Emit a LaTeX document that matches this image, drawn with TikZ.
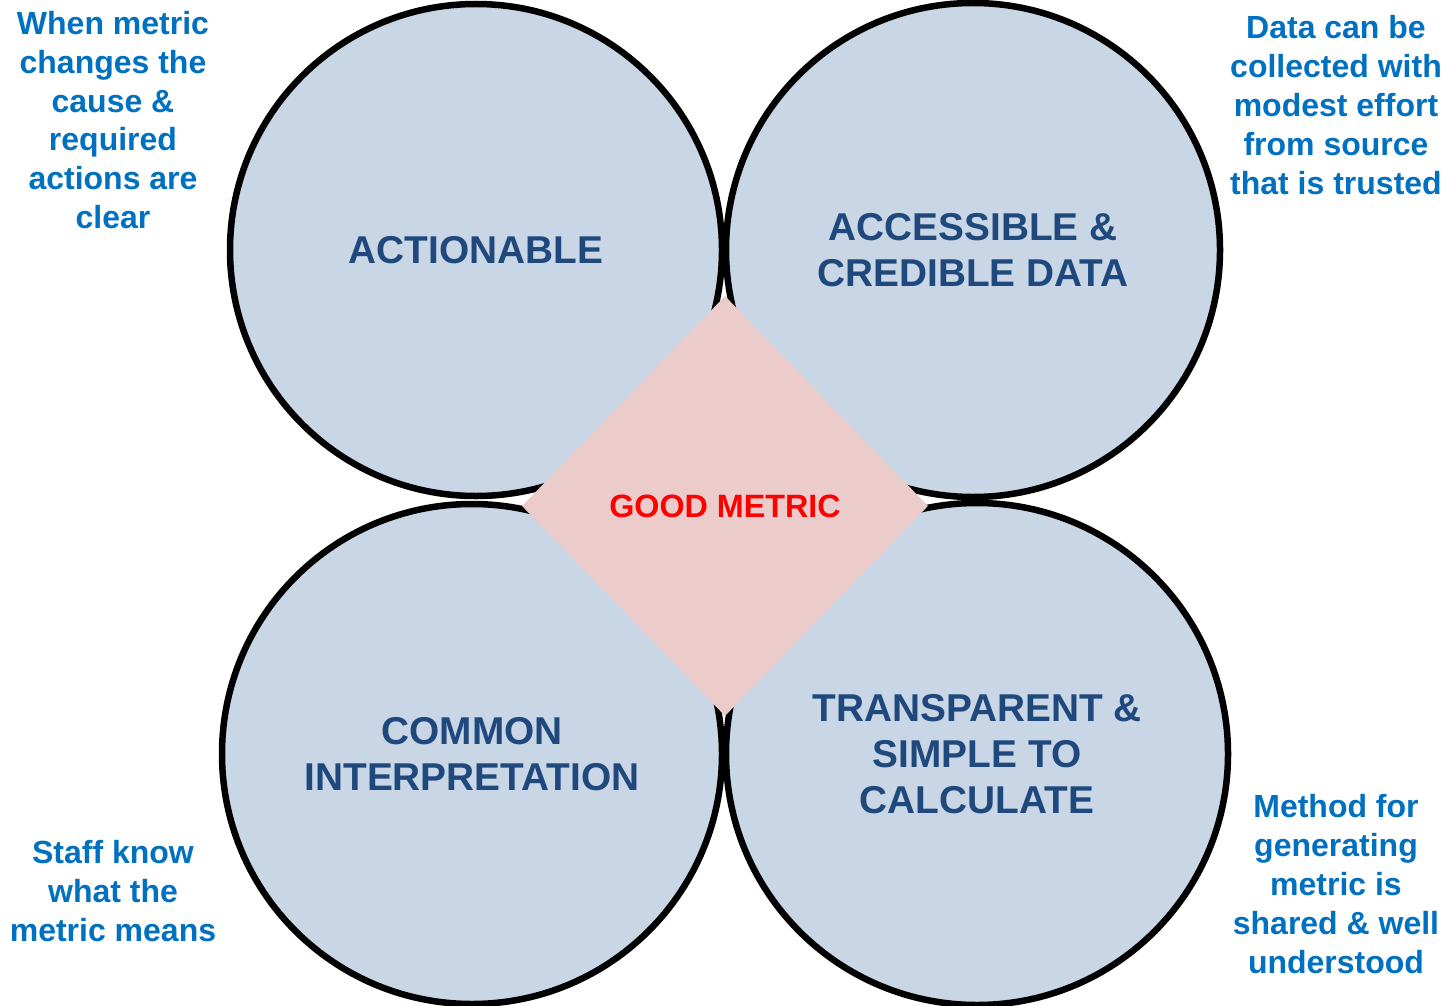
\documentclass[tikz,border=0pt]{standalone}
\usepackage{fontspec}
\setmainfont{Liberation Sans}
\usetikzlibrary{shapes.geometric}

\definecolor{circfill}{HTML}{C8D6E5}
\definecolor{circtext}{HTML}{1F497D}
\definecolor{notetext}{HTML}{0070C0}
\definecolor{diafill}{HTML}{EBCCCB}
\definecolor{hubtext}{HTML}{FF0000}

\tikzset{
  pillar/.style={circle, draw=black, line width=6.5pt, fill=circfill,
    inner sep=0pt, align=center, text=circtext,
    font=\bfseries\fontsize{38.8}{46}\selectfont},
  hub/.style={diamond, fill=diafill, inner sep=0pt,
    minimum width=406pt, minimum height=420pt,
    text=hubtext, font=\bfseries\fontsize{32.3}{38}\selectfont},
  note/.style={align=center, text=notetext, inner sep=0pt,
    font=\bfseries\fontsize{32}{38.8}\selectfont}
}

\begin{document}
\begin{tikzpicture}[x=1pt, y=-1pt]
  \useasboundingbox (0,0) rectangle (1453,1006);

  % the four qualities
  \node[pillar, minimum size=492pt] (act) at (476,250) {ACTIONABLE};
  \node[pillar, minimum size=494pt] (acc) at (973,250) {ACCESSIBLE \&\\CREDIBLE DATA};
  \node[pillar, minimum size=500pt] (com) at (472,754) {COMMON\\INTERPRETATION};
  \node[pillar, minimum size=502pt] (tra) at (977,754) {TRANSPARENT \&\\SIMPLE TO\\CALCULATE};

  % centre
  \node[hub] (good) at (725,506) {GOOD METRIC};

  % explanations
  \node[note] (nact) at (113,120) {When metric\\changes the\\cause \&\\required\\actions are\\clear};
  \node[note] (nacc) at (1336,105) {Data can be\\collected with\\modest effort\\from source\\that is trusted};
  \node[note] (ncom) at (113,891) {Staff know\\what the\\metric means};
  \node[note] (ntra) at (1336,884) {Method for\\generating\\metric is\\shared \& well\\understood};
\end{tikzpicture}
\end{document}
